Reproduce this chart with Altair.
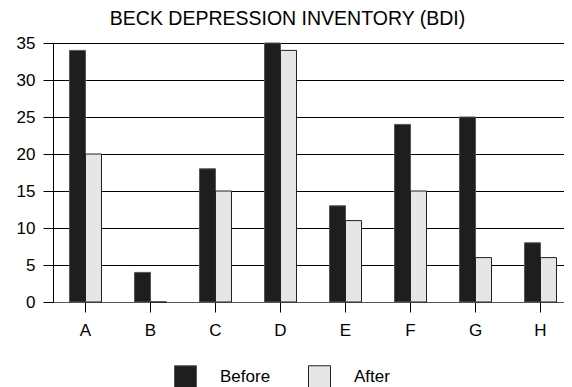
import altair as alt
import pandas as pd

categories = ["A", "B", "C", "D", "E", "F", "G", "H"]
before = [34, 4, 18, 35, 13, 24, 25, 8]
after = [20, 0, 15, 34, 11, 15, 6, 6]
series = ["Before", "After"]
y_ticks = [0, 5, 10, 15, 20, 25, 30, 35]

rows = []
for c, b, a in zip(categories, before, after):
    rows.append({"cat": c, "series": "Before", "value": b})
    rows.append({"cat": c, "series": "After", "value": a})
df = pd.DataFrame(rows)

font = "Liberation Sans"

chart = alt.Chart(df).mark_bar(strokeWidth=1).encode(
    x=alt.X("cat:N", sort=categories, title=None,
            scale=alt.Scale(paddingInner=0.5077, paddingOuter=0.2538, range=[0, 520]),
            axis=alt.Axis(labelAngle=0, labelFontSize=17, labelFont=font, labelColor="#000",
                          tickSize=10, tickColor="#000", labelPadding=10,
                          domainColor="#555", grid=False)),
    xOffset=alt.XOffset("series:N", sort=series, scale=alt.Scale(paddingInner=0, paddingOuter=0)),
    y=alt.Y("value:Q", title=None,
            scale=alt.Scale(domain=[0, 35], nice=False),
            axis=alt.Axis(values=y_ticks, labelFontSize=17, labelFont=font, labelColor="#000",
                          tickSize=10, tickColor="#000", labelPadding=8,
                          domainColor="#000", gridColor="#000", gridOpacity=1, gridWidth=1)),
    color=alt.Color("series:N", sort=series,
                    scale=alt.Scale(domain=series, range=["#1e1e1e", "#e6e6e6"]),
                    legend=alt.Legend(title=None, orient="none", direction="horizontal",
                                      legendX=121, legendY=322,
                                      symbolType="square", symbolSize=484,
                                      symbolStrokeColor="#555", symbolStrokeWidth=1,
                                      labelFontSize=17, labelFont=font, labelColor="#000",
                                      labelOffset=23, columnPadding=35)),
    stroke=alt.Stroke("series:N", sort=series,
                      scale=alt.Scale(domain=series, range=["#555555", "#222222"]),
                      legend=None),
).properties(
    width=511, height=259,
    title=alt.TitleParams("BECK DEPRESSION INVENTORY (BDI)", fontSize=19.5, font=font,
                          fontWeight="normal", color="#000", anchor="middle", dx=-21, offset=5),
    autosize=alt.AutoSizeParams(type="none"),
    padding={"left": 45, "top": 35, "right": 0, "bottom": 85},
).configure_view(stroke=None)

chart.save("out.html", embed_options={"renderer": "svg", "actions": False})
